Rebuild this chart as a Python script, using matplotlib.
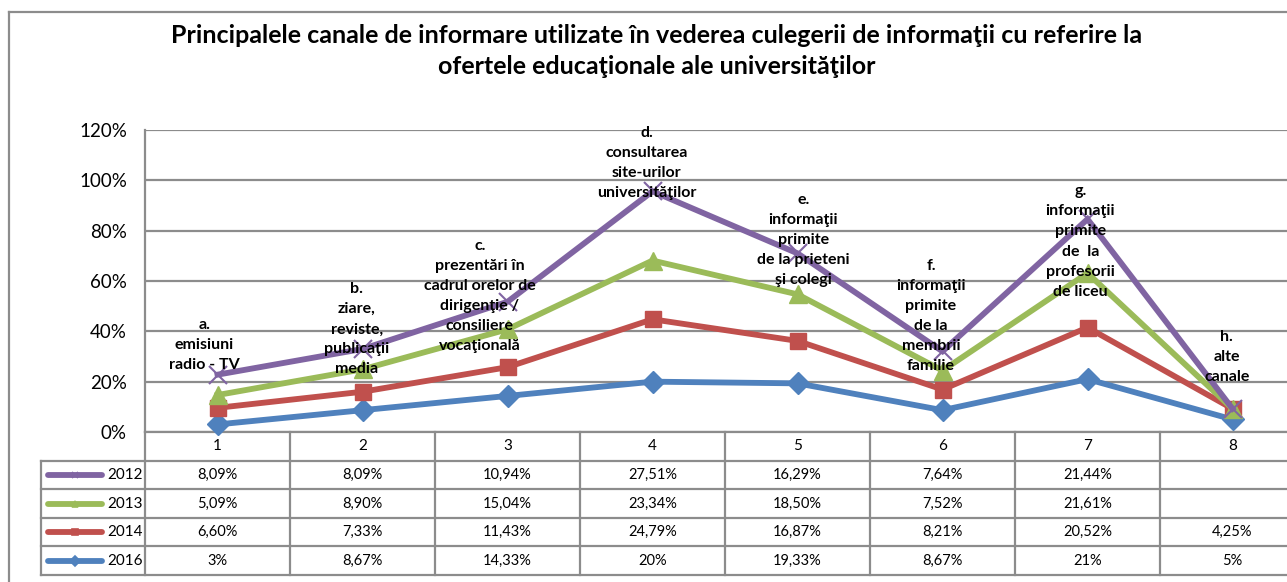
import matplotlib
matplotlib.use('Agg')
import matplotlib.pyplot as plt
from matplotlib.lines import Line2D
import numpy as np

plt.rcParams['font.family'] = ['Lato', 'DejaVu Sans']

# data (values in %)
categories = ['1', '2', '3', '4', '5', '6', '7', '8']
years = ['2012', '2013', '2014', '2016']
v2012 = [8.09, 8.09, 10.94, 27.51, 16.29, 7.64, 21.44, None]
v2013 = [5.09, 8.90, 15.04, 23.34, 18.50, 7.52, 21.61, None]
v2014 = [6.60, 7.33, 11.43, 24.79, 16.87, 8.21, 20.52, 4.25]
v2016 = [3, 8.67, 14.33, 20, 19.33, 8.67, 21, 5]

cat_labels = [
    'a.\nemisiuni\nradio - TV',
    'b.\nziare,\nreviste,\npublicaţii\nmedia',
    'c.\nprezentări în\ncadrul orelor de\ndirigenţie /\nconsiliere\nvocaţională',
    'd.\nconsultarea\nsite-urilor\nuniversităţilor',
    'e.\ninformaţii\nprimite\nde la prieteni\nşi colegi',
    'f.\ninformaţii\nprimite\nde la\nmembrii\nfamilie',
    'g.\ninformaţii\nprimite\nde  la\nprofesorii\nde liceu',
    'h.\nalte\ncanale',
]

title = ('Principalele canale de informare utilizate în vederea culegerii de informaţii cu referire la\n'
         'ofertele educaţionale ale universităţilor')

colors = {'2012': '#8064A2', '2013': '#9BBB59', '2014': '#C0504D', '2016': '#4F81BD'}
markers = {'2012': 'x', '2013': '^', '2014': 's', '2016': 'D'}
msizes = {'2012': 13, '2013': 13, '2014': 12, '2016': 11}

# label placement (layout only): x shift from category, y centre in axis units
lab_dx = [-0.09, -0.04, -0.19, -0.04, 0.04, -0.08, -0.05, -0.04]
lab_y = [0.346, 0.408, 0.541, 1.068, 0.764, 0.461, 0.757, 0.298]

W, H = 1287, 582
fig = plt.figure(figsize=(W / 100, H / 100), dpi=100)

# chart area border (top and left only visible)
fig.add_artist(Line2D([9 / W, 1.0], [1 - 12 / H, 1 - 12 / H], color='#8c8c8c', lw=1.6))
fig.add_artist(Line2D([9 / W, 9 / W], [0, 1 - 12 / H], color='#8c8c8c', lw=1.6))

fig.text(657 / W, 1 - 51 / H, title, ha='center', va='center', fontsize=18,
         fontweight='bold', linespacing=1.45)

# plot area: 145px..1305px wide (right part cut off), 130px..432px high
x0, x1, ytop, ybot = 145, 1305, 130, 432
ax = fig.add_axes([x0 / W, 1 - ybot / H, (x1 - x0) / W, (ybot - ytop) / H])

series = {'2012': v2012, '2013': v2013, '2014': v2014, '2016': v2016}
xs = np.arange(1, len(categories) + 1)

# stacked lines: 2016 at bottom, then 2014, 2013, 2012
stack = np.zeros(len(categories))
cum = {}
for yr in ['2016', '2014', '2013', '2012']:
    vals = np.array([0 if v is None else v for v in series[yr]], dtype=float) / 100
    stack = stack + vals
    cum[yr] = stack.copy()

for z, yr in enumerate(['2016', '2014', '2013', '2012']):
    mk = markers[yr]
    ax.plot(xs, cum[yr], color=colors[yr], lw=4.2, marker=mk, ms=msizes[yr],
            mew=1.5 if mk == 'x' else 1, mec=colors[yr], mfc=colors[yr], zorder=3 + z,
            solid_joinstyle='miter', clip_on=False)

for i, lab in enumerate(cat_labels):
    ax.text(xs[i] + lab_dx[i], lab_y[i], lab, ha='center', va='center', fontsize=11.5,
            fontweight='bold', linespacing=1.55, zorder=10)

ax.set_xlim(0.5, len(categories) + 0.5)
ax.set_ylim(0, 1.2)
ax.set_yticks(np.arange(0, 1.21, 0.2))
ax.set_yticklabels([f'{int(round(t * 100))}%' for t in np.arange(0, 1.21, 0.2)], fontsize=13.5)
ax.tick_params(axis='y', length=0, pad=13)
ax.set_xticks([])
ax.grid(axis='y', color='#8c8c8c', lw=1.6)
ax.set_axisbelow(True)
for s in ['top', 'right']:
    ax.spines[s].set_visible(False)
for s in ['left', 'bottom']:
    ax.spines[s].set_color('#8c8c8c')
    ax.spines[s].set_linewidth(1.6)

# data table below the plot area
tx0, tbot = 41, 575
tab = fig.add_axes([tx0 / W, 1 - tbot / H, (x1 - tx0) / W, (tbot - ybot) / H])
left_lim = 0.5 - (x0 - tx0) / ((x1 - x0) / len(categories))
tab.set_xlim(left_lim, len(categories) + 0.5)
tab.set_ylim(5, 0)
tab.axis('off')
gc = '#8c8c8c'
glw = 1.6

def fmt(v):
    if v is None:
        return ''
    if float(v).is_integer():
        return f'{int(v)}%'
    return f'{v:.2f}'.replace('.', ',') + '%'

# header
for i, c in enumerate(categories):
    tab.text(xs[i], 0.5, c, ha='center', va='center', fontsize=11)
for b in np.arange(0.5, len(categories) + 0.5, 1.0):
    tab.plot([b, b], [0, 5], color=gc, lw=glw, clip_on=False)
for r in range(1, 6):
    tab.plot([left_lim, len(categories) + 0.5], [r, r], color=gc, lw=glw, clip_on=False)
tab.plot([left_lim, left_lim], [1, 5], color=gc, lw=glw, clip_on=False)

for r, yr in enumerate(years):
    yc = r + 1.5
    kx = [left_lim + 0.05, left_lim + 0.42]
    tab.plot(kx, [yc, yc], color=colors[yr], lw=4.2, solid_capstyle='round')
    tab.plot([np.mean(kx)], [yc], color=colors[yr], marker=markers[yr], ms=5,
             mew=1.2, mec=colors[yr])
    tab.text(left_lim + 0.455, yc, yr, ha='left', va='center', fontsize=11)
    for i, v in enumerate(series[yr]):
        tab.text(xs[i], yc, fmt(v), ha='center', va='center', fontsize=10.5)

fig.savefig('out.png', dpi=100)
